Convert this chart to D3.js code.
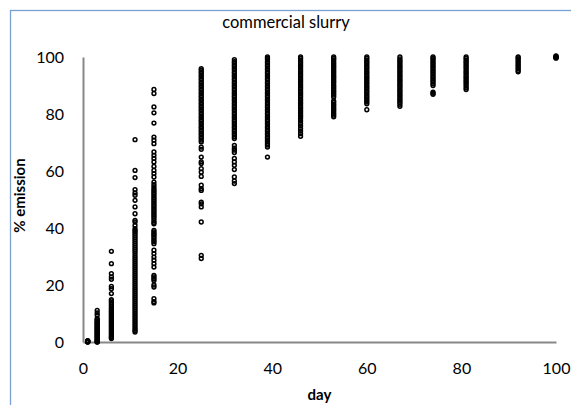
<!DOCTYPE html>
<html>
<head>
<meta charset="utf-8">
<script src="https://cdn.jsdelivr.net/npm/d3@7"></script>
<style>
  html, body { margin: 0; padding: 0; background: #fff; }
  svg { display: block; }
</style>
</head>
<body>
<svg id="chart" width="571" height="405"></svg>
<script>
// ---- data ----
const days = [1, 3, 6, 11, 15, 25, 32, 39, 46, 53, 60, 67, 74, 81, 92, 100];

const emissionDay1 = [0, 0, 0.1, 0.2, 0.3, 0.4, 0.5];
const emissionDay3 = [0, 0, 0.2, 0.5, 0.8, 1.1, 1.4, 1.7, 2.0, 2.3, 2.6, 2.9, 3.2, 3.5, 3.8, 4.1, 4.4, 4.7, 5.0, 5.3, 5.6, 5.9, 6.2, 6.5, 6.8, 7.1, 7.5, 7.9, 8.2, 9.4, 10.2, 11.1];
const emissionDay6 = [1.2, 1.6, 2.0, 2.5, 3.0, 3.5, 4.0, 4.5, 5.0, 5.5, 6.0, 6.5, 7.0, 7.5, 8.0, 8.5, 9.0, 9.5, 10.0, 10.5, 11.0, 11.5, 12.0, 12.6, 13.2, 13.8, 14.4, 14.9, 17.0, 18.7, 19.5, 22.0, 22.8, 24.0, 27.5, 31.8];
const emissionDay11 = [3.5, 4.0, 4.5, 5.2, 5.9, 6.6, 7.3, 8.0, 8.7, 9.4, 10.1, 10.8, 11.5, 12.2, 12.9, 13.6, 14.3, 15.0, 15.7, 16.4, 17.1, 17.8, 18.5, 19.2, 19.9, 20.6, 21.3, 22.0, 22.7, 23.4, 24.1, 24.8, 25.5, 26.2, 26.9, 27.6, 28.3, 29.0, 29.7, 30.4, 31.1, 31.8, 32.5, 33.2, 33.9, 34.6, 35.3, 36.0, 36.7, 37.4, 38.1, 38.7, 39.2, 39.8, 40.9, 42.1, 42.7, 45.0, 47.4, 49.7, 51.5, 52.3, 53.5, 57.7, 60.2, 71.0];
const emissionDay15 = [13.7, 14.2, 15.2, 19.3, 20.0, 21.6, 22.2, 22.8, 23.4, 26.3, 27.5, 28.7, 29.8, 31.0, 32.2, 34.5, 35.2, 35.7, 36.4, 37.0, 37.6, 38.0, 38.6, 39.2, 41.5, 42.0, 42.7, 43.4, 44.0, 44.6, 45.2, 45.8, 46.4, 47.0, 47.6, 48.2, 48.8, 49.4, 50.0, 50.6, 51.2, 51.8, 52.4, 53.0, 53.6, 54.4, 55.2, 56.1, 57.9, 59.1, 60.2, 61.6, 63.2, 64.4, 65.5, 66.7, 69.6, 70.8, 71.9, 76.8, 80.4, 82.5, 87.2, 88.6];
const emissionDay25 = [29.3, 30.4, 42.1, 47.4, 48.5, 49.1, 53.2, 53.8, 55.0, 58.1, 59.6, 60.8, 62.6, 63.2, 64.9, 67.6, 68.4, 70.2, 70.8, 71.5, 72.0, 72.7, 73.2, 73.9, 74.4, 75.1, 75.6, 76.3, 76.8, 77.5, 78.0, 78.7, 79.2, 79.9, 80.4, 81.1, 81.6, 82.3, 82.8, 83.5, 84.0, 84.7, 85.2, 85.9, 86.4, 87.1, 87.6, 88.3, 88.8, 89.5, 90.0, 90.7, 91.2, 91.9, 92.4, 93.1, 93.6, 94.3, 94.8, 95.4, 95.9];
const emissionDay32 = [55.6, 56.5, 57.9, 60.5, 62.0, 63.2, 64.4, 66.5, 67.3, 68.0, 69.0, 71.4, 72.0, 72.7, 73.2, 73.9, 74.4, 75.1, 75.6, 76.3, 76.8, 77.5, 78.0, 78.7, 79.2, 79.9, 80.4, 81.1, 81.6, 82.3, 82.8, 83.5, 84.0, 84.7, 85.2, 85.9, 86.4, 87.1, 87.6, 88.3, 88.8, 89.5, 90.0, 90.7, 91.2, 91.9, 92.4, 93.1, 93.6, 94.3, 94.8, 95.5, 96.0, 96.7, 97.2, 97.9, 98.4, 99.1];
const emissionDay39 = [64.9, 68.4, 69.1, 69.6, 70.3, 70.8, 71.5, 72.0, 72.7, 73.2, 73.9, 74.4, 75.1, 75.6, 76.3, 76.8, 77.5, 78.0, 78.7, 79.2, 79.9, 80.4, 81.1, 81.6, 82.3, 82.8, 83.5, 84.0, 84.7, 85.2, 85.9, 86.4, 87.1, 87.6, 88.3, 88.8, 89.5, 90.0, 90.7, 91.2, 91.9, 92.4, 93.1, 93.6, 94.3, 94.8, 95.5, 96.0, 96.7, 97.2, 97.9, 98.4, 99.1, 99.6, 100];
const emissionDay46 = [72.2, 73.1, 74.0, 74.9, 75.8, 76.7, 77.6, 78.4, 79.0, 79.5, 80.1, 80.7, 81.2, 81.8, 82.3, 82.9, 83.6, 84.1, 84.7, 85.2, 85.9, 86.4, 87.0, 87.5, 88.1, 88.8, 89.3, 89.9, 90.4, 91.0, 91.6, 92.1, 92.7, 93.3, 93.8, 94.4, 95.0, 95.5, 96.1, 96.7, 97.2, 97.8, 98.3, 98.9, 99.5, 100];
const emissionDay53 = [79.0, 79.6, 80.1, 80.7, 81.3, 81.8, 82.4, 83.0, 83.5, 84.1, 84.6, 86.0, 86.6, 87.1, 87.7, 88.2, 88.8, 89.4, 89.9, 90.5, 91.1, 91.6, 92.2, 92.8, 93.3, 93.9, 94.5, 95.0, 95.6, 96.2, 96.7, 97.3, 97.8, 98.4, 99.0, 99.5, 100];
const emissionDay60 = [81.5, 83.6, 84.2, 84.7, 85.3, 85.9, 86.4, 87.0, 87.6, 88.1, 88.7, 89.3, 89.8, 90.4, 91.0, 91.5, 92.1, 92.7, 93.2, 93.8, 94.4, 94.9, 95.5, 96.1, 96.6, 97.2, 97.8, 98.3, 98.9, 99.5, 100];
const emissionDay67 = [82.7, 83.4, 84.0, 84.6, 85.1, 85.7, 86.3, 86.8, 87.4, 88.0, 88.5, 89.1, 89.7, 90.2, 90.8, 91.4, 91.9, 92.5, 93.1, 93.6, 94.2, 94.8, 95.3, 95.9, 96.5, 97.0, 97.6, 98.2, 98.7, 99.3, 100];
const emissionDay74 = [86.9, 87.3, 87.7, 90.0, 90.6, 91.2, 91.7, 92.3, 92.9, 93.4, 94.0, 94.6, 95.1, 95.7, 96.3, 96.8, 97.4, 98.0, 98.5, 99.1, 99.6, 100];
const emissionDay81 = [88.6, 89.2, 89.8, 90.4, 91.0, 91.5, 92.1, 92.7, 93.2, 93.8, 94.4, 94.9, 95.5, 96.1, 96.6, 97.2, 97.8, 98.3, 98.9, 99.5, 100];
const emissionDay92 = [94.8, 95.3, 95.9, 96.4, 97.0, 97.5, 98.1, 98.6, 99.2, 99.7, 100];
const emissionDay100 = [99.6, 99.8, 99.9, 100, 100.2, 100.4];

const xTicks = [0, 20, 40, 60, 80, 100];
const yTicks = [0, 20, 40, 60, 80, 100];

const chartTitle = "commercial slurry";
const xTitle = "day";
const yTitle = "% emission";

const emissionByDay = [emissionDay1, emissionDay3, emissionDay6, emissionDay11, emissionDay15,
  emissionDay25, emissionDay32, emissionDay39, emissionDay46, emissionDay53, emissionDay60,
  emissionDay67, emissionDay74, emissionDay81, emissionDay92, emissionDay100];

const points = [];
days.forEach((d, i) => emissionByDay[i].forEach(v => points.push({ day: d, value: v })));

// ---- drawing ----
const svg = d3.select("#chart");
const font = "Lato, 'Open Sans', sans-serif";

svg.append("rect").attr("x", 0).attr("y", 0).attr("width", 571).attr("height", 405).attr("fill", "#fff");
svg.append("rect")
  .attr("x", 10.5).attr("y", 10.5).attr("width", 620).attr("height", 450)
  .attr("fill", "none").attr("stroke", "#7aa0d4").attr("stroke-width", 1.3);

const x = d3.scaleLinear().domain([0, 100]).range([83, 556]);
const y = d3.scaleLinear().domain([0, 100]).range([342, 57]);

const axisColor = "#888888";

const gx = svg.append("g").attr("transform", `translate(0,${y(0)})`)
  .call(d3.axisBottom(x).tickValues(xTicks).tickSize(0).tickPadding(21).tickFormat(d3.format("d")));
const gy = svg.append("g").attr("transform", `translate(${x(0)},0)`)
  .call(d3.axisLeft(y).tickValues(yTicks).tickSize(0).tickPadding(19).tickFormat(d3.format("d")));

[gx, gy].forEach(g => {
  g.select(".domain").attr("stroke", axisColor).attr("stroke-width", 2);
  g.selectAll("text").attr("font-family", font).attr("font-size", 16).attr("fill", "#000");
});

// points
svg.append("g").selectAll("circle").data(points).join("circle")
  .attr("cx", d => x(d.day)).attr("cy", d => y(d.value))
  .attr("r", 1.9).attr("fill", "none").attr("stroke", "#000").attr("stroke-width", 1.5);

// titles
svg.append("text").attr("x", 286).attr("y", 28).attr("text-anchor", "middle")
  .attr("font-family", font).attr("font-size", 16.5).attr("fill", "#000").text(chartTitle);

svg.append("text").attr("x", (x(0) + x(100)) / 2).attr("y", 400).attr("text-anchor", "middle")
  .attr("font-family", font).attr("font-size", 15).attr("font-weight", "bold").attr("fill", "#000").text(xTitle);

svg.append("text").attr("transform", `translate(25,${(y(0) + y(100)) / 2 - 4}) rotate(-90)`)
  .attr("text-anchor", "middle")
  .attr("font-family", font).attr("font-size", 15).attr("font-weight", "bold").attr("fill", "#000").text(yTitle);
</script>
</body>
</html>
